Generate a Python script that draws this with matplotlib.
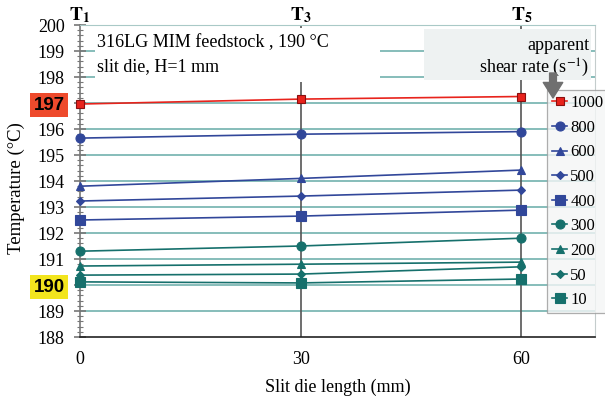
import matplotlib.pyplot as plt
from matplotlib.patches import Rectangle, FancyArrowPatch
import numpy as np

# data
length_mm = [0, 30, 60]
shear_rates = ["1000", "800", "600", "500", "400", "300", "200", "50", "10"]
temp_1000 = [196.96, 197.15, 197.25]
temp_800 = [195.65, 195.80, 195.90]
temp_600 = [193.80, 194.10, 194.42]
temp_500 = [193.23, 193.42, 193.65]
temp_400 = [192.50, 192.65, 192.88]
temp_300 = [191.30, 191.50, 191.80]
temp_200 = [190.73, 190.80, 190.88]
temp_50 = [190.38, 190.42, 190.70]
temp_10 = [190.12, 190.08, 190.23]
series = [temp_1000, temp_800, temp_600, temp_500, temp_400,
          temp_300, temp_200, temp_50, temp_10]
y_ticks = list(range(188, 201))
station_labels = ["1", "3", "5"]

red = "#e8231c"
blue = "#31479a"
teal = "#16706c"
colors = [red, blue, blue, blue, blue, teal, teal, teal, teal]
markers = ["s", "o", "^", "D", "s", "o", "^", "D", "s"]
msizes = [6, 6.5, 6, 4, 6.5, 6.5, 6, 4, 6.5]

plt.rcParams.update(
    {
        "font.family": "serif",
        "font.serif": ["Liberation Serif", "DejaVu Serif"],
        "font.size": 13,
        "mathtext.fontset": "stix",
    }
)

W, H = 605, 397
fig = plt.figure(figsize=(6.05, 3.97), dpi=100)
ax = fig.add_axes([80 / W, 1 - 337 / H, 515 / W, 312 / H])

ax.set_xlim(0, 70)
ax.set_ylim(188, 200)

# horizontal grid
for t in y_ticks[1:]:
    ax.axhline(t, color="#86bdba", linewidth=1.4, zorder=1)

# station lines
for x in length_mm[1:]:
    ax.axvline(x, color="#555555", linewidth=1.2, zorder=2)

for vals, c, m, ms, lab in zip(series, colors, markers, msizes, shear_rates):
    edge = "#8a1010" if c == red else c
    ax.plot(length_mm, vals, color=c, marker=m, markersize=ms,
            markeredgecolor=edge, markeredgewidth=0.8, linewidth=1.2,
            label=lab, zorder=4, clip_on=False)

ax.set_xticks(length_mm)
ax.tick_params(axis="x", length=0, pad=10, labelsize=13)
ax.set_yticks(y_ticks, [str(t) for t in y_ticks])
ax.yaxis.set_minor_locator(plt.MultipleLocator(0.2))
ax.tick_params(axis="y", which="major", direction="inout", length=8,
               width=1.2, color="#777777", pad=7, labelsize=13)
ax.tick_params(axis="y", which="minor", direction="inout", length=5,
               width=0.8, color="#777777")

# highlighted reference temperatures
for lab in ax.get_yticklabels():
    if lab.get_text() == "197":
        lab.set_fontfamily("Liberation Sans")
        lab.set_fontweight("bold")
        lab.set_fontsize(13.5)
        lab.set_bbox(dict(facecolor="#ee4a2c", edgecolor="none", pad=2.5))
    if lab.get_text() == "190":
        lab.set_fontfamily("Liberation Sans")
        lab.set_fontweight("bold")
        lab.set_fontsize(13.5)
        lab.set_bbox(dict(facecolor="#f2e51e", edgecolor="none", pad=2.5))

ax.spines["left"].set_color("#777777")
ax.spines["left"].set_linewidth(1.2)
ax.spines["bottom"].set_color("#222222")
ax.spines["bottom"].set_linewidth(1.2)
ax.spines["top"].set_color("#a9c9c7")
ax.spines["right"].set_color("#c4cccc")

ax.set_xlabel("Slit die length (mm)", labelpad=8, fontsize=13)
ax.set_ylabel("Temperature (°C)", fontsize=13.5)
ax.yaxis.set_label_coords((25 - 80) / 515, (337 - 188) / 312)

for x, s in zip(length_mm, station_labels):
    ax.text(x, 200.0, r"$\mathbf{T}_\mathbf{" + s + "}$", ha="center",
            va="bottom", fontsize=14, clip_on=False)

# annotation boxes (they hide the grid behind them)
fig.add_artist(Rectangle((95 / W, 1 - 82 / H), 285 / W, 54 / H,
                         transform=fig.transFigure, facecolor="white",
                         edgecolor="none", zorder=2))
fig.add_artist(Rectangle((424 / W, 1 - 80 / H), 167 / W, 51 / H,
                         transform=fig.transFigure, facecolor="#eef2f2",
                         edgecolor="none", zorder=2))
fig.text(97 / W, 1 - 43 / H, "316LG MIM feedstock , 190 °C",
         ha="left", va="center", zorder=3)
fig.text(97 / W, 1 - 67 / H, "slit die, H=1 mm",
         ha="left", va="center", zorder=3)
fig.text(589 / W, 1 - 45 / H, "apparent",
         ha="right", va="center", zorder=3)
fig.text(589 / W, 1 - 68 / H, "shear rate (s$^{-1}$)",
         ha="right", va="center", zorder=3)

leg = fig.legend(loc="upper left", bbox_to_anchor=(547 / W, 1 - 90 / H),
                 borderaxespad=0, frameon=True, fancybox=False,
                 handlelength=0.9, handletextpad=0.2, labelspacing=0.52,
                 borderpad=0.3, fontsize=12)
leg.get_frame().set_facecolor("#f4f6f6")
leg.get_frame().set_edgecolor("#9a9a9a")
leg.get_frame().set_linewidth(0.9)
leg.set_zorder(5)

fig.add_artist(FancyArrowPatch((553 / W, 1 - 73 / H), (553 / W, 1 - 98 / H),
                               transform=fig.transFigure,
                               arrowstyle="simple,head_width=1.0,head_length=0.8,tail_width=0.35",
                               mutation_scale=14, color="#707070",
                               shrinkA=0, shrinkB=0, zorder=6))

fig.savefig("out.png", dpi=100)
